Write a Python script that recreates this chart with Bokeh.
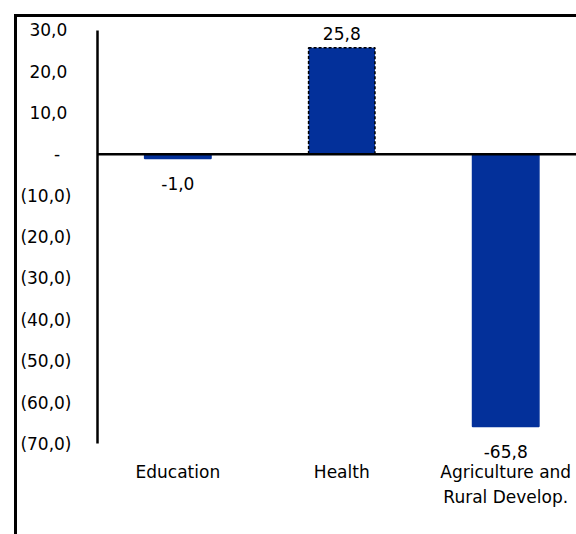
from bokeh.plotting import figure
from bokeh.models import Range1d, FixedTicker, Span, ColumnDataSource
from bokeh.core.properties import value
from bokeh.embed import file_html
from bokeh.resources import INLINE

# Budget change by sector
categories = ["Education", "Health", "Agriculture and\nRural Develop."]
values = [-1.0, 25.8, -65.8]
y_ticks = [30, 20, 10, 0, -10, -20, -30, -40, -50, -60, -70]

FONT = "DejaVu Sans"
FSIZE = "17px"
BLUE = "#03309A"


def fmt_number(v):
    """Accounting style: 1 decimal, comma separator, negatives in parentheses, zero as a dash."""
    if v == 0:
        return "-\u2002\u2006"
    s = f"{abs(v):.1f}".replace(".", ",")
    return f"({s})" if v < 0 else s + "\u2005"


def fmt_label(v):
    return f"{v:.1f}".replace(".", ",")


xs = list(range(len(categories)))
src = ColumnDataSource(dict(
    x=xs,
    top=values,
    label=[fmt_label(v) for v in values],
    yoff=[-14 if v > 0 else 25 for v in values],
    dash=["3 2" if v > 0 else "solid" for v in values],
    lcolor=["black" if v > 0 else BLUE for v in values],
))

p = figure(
    width=562, height=520,
    output_backend="svg", toolbar_location=None,
    x_range=Range1d(-0.49, 2.45),
    y_range=Range1d(-75.7, 32.6),
    min_border_left=80, min_border_right=0,
    min_border_top=2, min_border_bottom=70,
    background_fill_color="white", border_fill_color="white",
)
# chart area frame: left and top edges
p.styles = {
    "margin-left": "14px", "margin-top": "14px",
    "border-left": "3px solid black", "border-top": "3px solid black",
}
p.outline_line_color = None
p.grid.visible = False

# bars
p.vbar(x="x", top="top", bottom=0, width=0.405, source=src,
       fill_color=BLUE, line_color="lcolor", line_dash="dash", line_width=1.5)

# zero line
p.add_layout(Span(location=0, dimension="width", line_color="black", line_width=2.5))

# value labels
p.text(x="x", y="top", text="label", source=src,
       text_align="center", text_baseline="alphabetic", y_offset="yoff",
       text_font=value(FONT), text_font_size=FSIZE, text_color="black")

# y axis
yax = p.yaxis[0]
yax.ticker = FixedTicker(ticks=y_ticks)
yax.bounds = (-70, 30)
yax.major_label_overrides = {t: fmt_number(t) for t in y_ticks}
yax.major_tick_line_color = None
yax.minor_tick_line_color = None
yax.axis_line_color = "black"
yax.axis_line_width = 2.5
yax.major_label_standoff = 20
yax.major_label_text_font = FONT
yax.major_label_text_font_size = FSIZE
yax.major_label_text_color = "black"

# x axis (category names)
xax = p.xaxis[0]
xax.ticker = FixedTicker(ticks=xs)
xax.major_label_overrides = {i: c for i, c in zip(xs, categories)}
xax.axis_line_color = None
xax.major_tick_line_color = None
xax.minor_tick_line_color = None
xax.major_label_standoff = -12
xax.major_label_text_font = FONT
xax.major_label_text_font_size = FSIZE
xax.major_label_text_color = "black"
xax.major_label_text_line_height = 1.26

open("out.html", "w").write(file_html(p, INLINE))
